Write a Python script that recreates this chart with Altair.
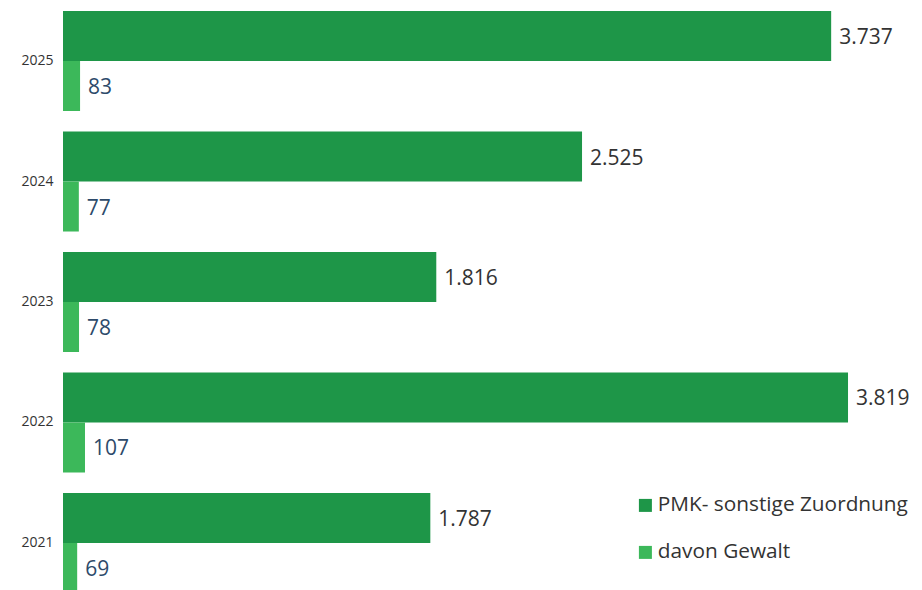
import altair as alt
import pandas as pd

years = ["2025", "2024", "2023", "2022", "2021"]
pmk_values = [3737, 2525, 1816, 3819, 1787]
gewalt_values = [83, 77, 78, 107, 69]
series_names = ["PMK- sonstige Zuordnung", "davon Gewalt"]
series_colors = ["#1e9648", "#3cb85a"]

rows = []
for y, a, b in zip(years, pmk_values, gewalt_values):
    rows.append({"year": y, "series": series_names[0], "value": a})
    rows.append({"year": y, "series": series_names[1], "value": b})
df = pd.DataFrame(rows)
df["label"] = df["value"].map(lambda v: f"{v:,}".replace(",", "."))

FONT = "Open Sans"

base = alt.Chart(df).encode(
    y=alt.Y(
        "year:N",
        sort=years,
        scale=alt.Scale(paddingInner=0.17, paddingOuter=0.025),
        axis=alt.Axis(
            title=None,
            ticks=False,
            domain=False,
            labelFontSize=14,
            labelFont=FONT,
            labelColor="#333333",
            labelPadding=10,
        ),
    ),
    yOffset=alt.YOffset(
        "series:N",
        sort=series_names,
        scale=alt.Scale(paddingInner=0, paddingOuter=0),
    ),
    x=alt.X("value:Q", scale=alt.Scale(domain=[0, 4140], nice=False), axis=None),
)

bars = base.mark_bar().encode(
    color=alt.Color(
        "series:N",
        sort=series_names,
        scale=alt.Scale(domain=series_names, range=series_colors),
        legend=alt.Legend(
            orient="none",
            legendX=572,
            legendY=487,
            title=None,
            symbolType="square",
            symbolSize=169,
            symbolStrokeWidth=0,
            labelFontSize=20.8,
            labelFont=FONT,
            labelColor="#333333",
            labelOffset=2,
            labelLimit=400,
            rowPadding=25,
            padding=0,
        ),
    )
)

text = base.mark_text(
    align="left", baseline="middle", dx=8, dy=2, fontSize=21, font=FONT
).encode(
    text="label:N",
    color=alt.condition(
        alt.datum.series == "davon Gewalt", alt.value("#2d4a6a"), alt.value("#333333")
    ),
)

chart = (
    alt.layer(bars, text)
    .properties(
        width=851,
        height=588,
        autosize=alt.AutoSizeParams(type="none"),
        padding={"left": 55, "top": 0, "right": 0, "bottom": 0},
    )
    .configure_view(stroke=None)
)

chart.save("out.html", embed_options={"renderer": "svg", "actions": False})
